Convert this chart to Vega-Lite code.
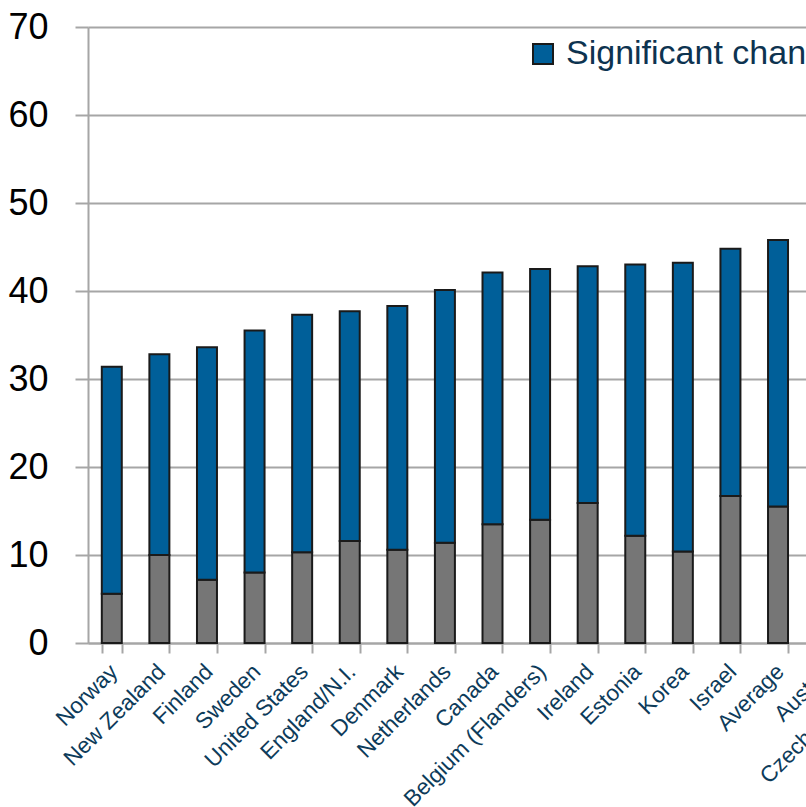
{
  "$schema": "https://vega.github.io/schema/vega-lite/v6.json",
  "width": 809,
  "height": 616,
  "autosize": {"type": "none"},
  "padding": {"left": 88, "top": 27, "right": 0, "bottom": 164},
  "background": "white",
  "config": {"view": {"stroke": null}},
  "data": {"values": [
    {"country": "Norway", "type": "Large change", "value": 5.6},
    {"country": "Norway", "type": "Significant change", "value": 25.8},
    {"country": "New Zealand", "type": "Large change", "value": 10.0},
    {"country": "New Zealand", "type": "Significant change", "value": 22.8},
    {"country": "Finland", "type": "Large change", "value": 7.2},
    {"country": "Finland", "type": "Significant change", "value": 26.4},
    {"country": "Sweden", "type": "Large change", "value": 8.0},
    {"country": "Sweden", "type": "Significant change", "value": 27.5},
    {"country": "United States", "type": "Large change", "value": 10.3},
    {"country": "United States", "type": "Significant change", "value": 27.0},
    {"country": "England/N.I.", "type": "Large change", "value": 11.6},
    {"country": "England/N.I.", "type": "Significant change", "value": 26.1},
    {"country": "Denmark", "type": "Large change", "value": 10.6},
    {"country": "Denmark", "type": "Significant change", "value": 27.7},
    {"country": "Netherlands", "type": "Large change", "value": 11.4},
    {"country": "Netherlands", "type": "Significant change", "value": 28.7},
    {"country": "Canada", "type": "Large change", "value": 13.5},
    {"country": "Canada", "type": "Significant change", "value": 28.6},
    {"country": "Belgium (Flanders)", "type": "Large change", "value": 14.0},
    {"country": "Belgium (Flanders)", "type": "Significant change", "value": 28.5},
    {"country": "Ireland", "type": "Large change", "value": 15.9},
    {"country": "Ireland", "type": "Significant change", "value": 26.9},
    {"country": "Estonia", "type": "Large change", "value": 12.2},
    {"country": "Estonia", "type": "Significant change", "value": 30.8},
    {"country": "Korea", "type": "Large change", "value": 10.4},
    {"country": "Korea", "type": "Significant change", "value": 32.8},
    {"country": "Israel", "type": "Large change", "value": 16.7},
    {"country": "Israel", "type": "Significant change", "value": 28.1},
    {"country": "Average", "type": "Large change", "value": 15.5},
    {"country": "Average", "type": "Significant change", "value": 30.3},
    {"country": "Austria", "type": "Large change", "value": 16.0},
    {"country": "Austria", "type": "Significant change", "value": 30.2},
    {"country": "Czech Republic", "type": "Large change", "value": 16.5},
    {"country": "Czech Republic", "type": "Significant change", "value": 30.0}
  ]},
  "mark": {"type": "bar", "stroke": "#1a1a1a", "strokeWidth": 2},
  "encoding": {
    "x": {
      "field": "country", "type": "nominal", "sort": null,
      "scale": {"paddingInner": 0.58, "paddingOuter": 0.29},
      "axis": {
        "title": null, "labelAngle": -45, "labelAlign": "right", "labelBaseline": "top",
        "labelFont": "Liberation Sans", "labelFontSize": 22.5, "labelColor": "#0d3b5a",
        "labelPadding": 7, "labelOffset": -6, "labelOverlap": false, "labelLimit": 400,
        "domainColor": "#a6a6a6", "domainWidth": 2,
        "tickBand": "extent", "tickColor": "#a6a6a6", "tickWidth": 2, "tickSize": 10,
        "grid": false
      }
    },
    "y": {
      "field": "value", "type": "quantitative", "aggregate": "sum", "stack": "zero",
      "scale": {"domain": [0, 70], "nice": false},
      "axis": {
        "title": null, "values": [0, 10, 20, 30, 40, 50, 60, 70],
        "labelFont": "Liberation Sans", "labelFontSize": 36, "labelColor": "#000000",
        "labelPadding": 27, "tickSize": 13, "tickColor": "#a6a6a6", "tickWidth": 2,
        "domainColor": "#a6a6a6", "domainWidth": 2,
        "grid": true, "gridColor": "#a6a6a6", "gridWidth": 2
      }
    },
    "color": {
      "field": "type", "type": "nominal",
      "scale": {"domain": ["Significant change", "Large change"], "range": ["#005f99", "#767676"]},
      "legend": {
        "title": null, "orient": "none", "legendX": 438, "legendY": 10, "direction": "horizontal",
        "padding": 0, "symbolType": "square", "symbolSize": 400, "symbolStrokeColor": "#1a1a1a",
        "symbolStrokeWidth": 2, "labelFont": "Liberation Sans", "labelFontSize": 34,
        "labelColor": "#0d3350", "labelOffset": 6, "labelLimit": 600, "columnPadding": 30
      }
    },
    "order": {"field": "type", "sort": "ascending"}
  }
}
